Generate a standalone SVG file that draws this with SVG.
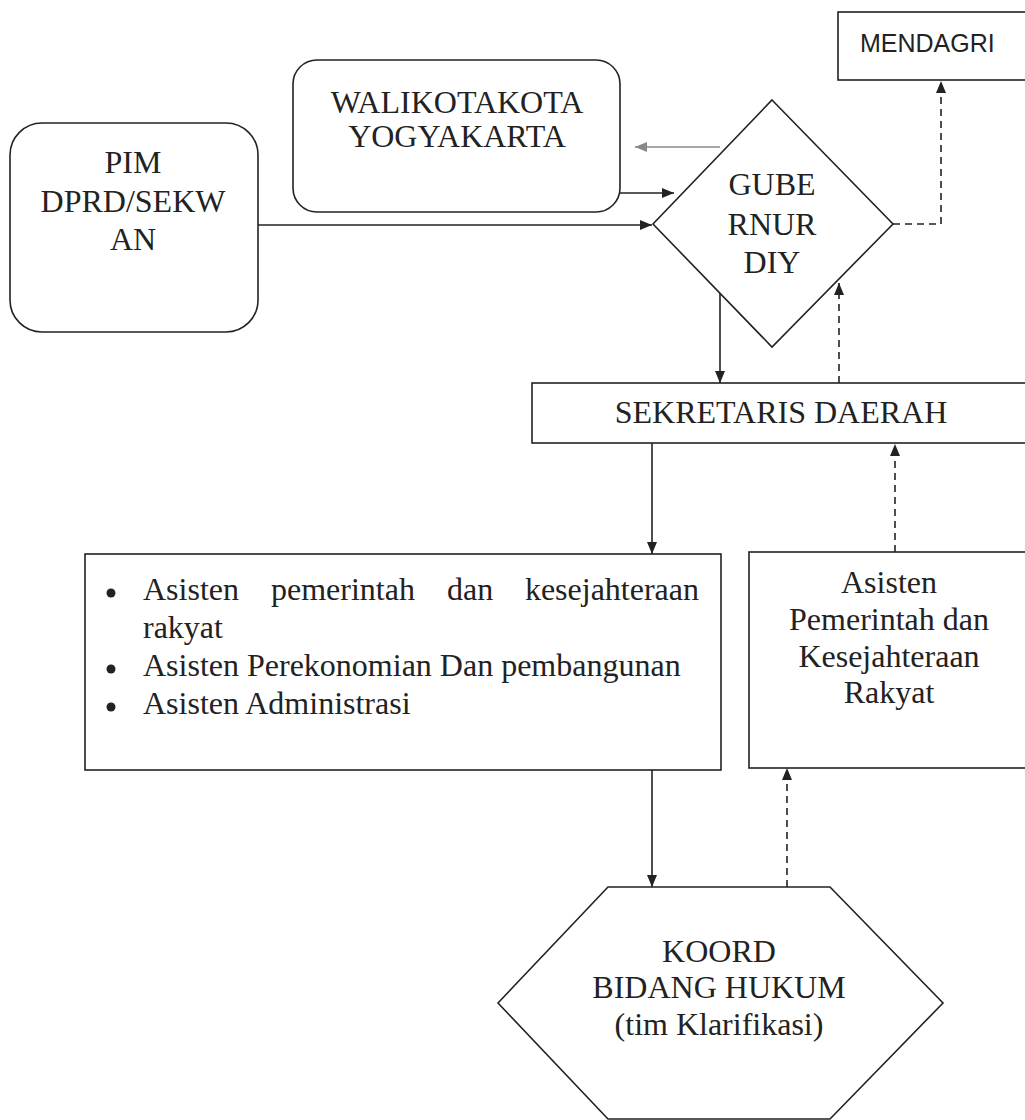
<svg xmlns="http://www.w3.org/2000/svg" width="1025" height="1120" viewBox="0 0 1025 1120">
<style>
.shape{fill:#fff;stroke:#222;stroke-width:1.6}
.t{font-family:"Liberation Serif","Times New Roman",serif;font-size:32px;fill:#222}
.c{text-anchor:middle}
.s{font-family:"Liberation Sans",Arial,sans-serif;font-size:25px;fill:#222}
.ln{fill:none;stroke:#222;stroke-width:1.6}
.dash{stroke-dasharray:7 5}
.gray{stroke:#888}
</style>
<defs>
<marker id="ah" viewBox="0 0 12 10" refX="12" refY="5" markerWidth="12" markerHeight="10" orient="auto" markerUnits="userSpaceOnUse">
<path d="M0,0 L12,5 L0,10 z" fill="#222"/>
</marker>
<marker id="ahg" viewBox="0 0 12 10" refX="12" refY="5" markerWidth="12" markerHeight="10" orient="auto" markerUnits="userSpaceOnUse">
<path d="M0,0 L12,5 L0,10 z" fill="#888"/>
</marker>
</defs>
<rect width="1025" height="1120" fill="#fff"/>

<g id="connectors">
<path class="ln" d="M258,225 H652" marker-end="url(#ah)"/>
<path class="ln" d="M620,193 H674" marker-end="url(#ah)"/>
<path class="ln gray" d="M720,147 H635" marker-end="url(#ahg)"/>
<path class="ln dash" d="M893,224 H941 V81" marker-end="url(#ah)"/>
<path class="ln" d="M720,293 V383" marker-end="url(#ah)"/>
<path class="ln dash" d="M839,383 V283" marker-end="url(#ah)"/>
<path class="ln" d="M652,443 V554" marker-end="url(#ah)"/>
<path class="ln dash" d="M895,552 V444" marker-end="url(#ah)"/>
<path class="ln" d="M652,770 V887" marker-end="url(#ah)"/>
<path class="ln dash" d="M787,887 V768" marker-end="url(#ah)"/>
</g>

<g id="mendagri">
<rect class="shape" x="838" y="12" width="200" height="68"/>
<text class="s" x="860" y="52">MENDAGRI</text>
</g>

<g id="walikota">
<rect class="shape" x="293" y="60" width="327" height="152" rx="24"/>
<text class="t c" x="457" y="113" font-size="30">WALIKOTAKOTA</text>
<text class="t c" x="457" y="147" font-size="30">YOGYAKARTA</text>
</g>

<g id="pim">
<rect class="shape" x="10" y="123" width="248" height="209" rx="32"/>
<text class="t c" x="133" y="173">PIM</text>
<text class="t c" x="133" y="212">DPRD/SEKW</text>
<text class="t c" x="133" y="250">AN</text>
</g>

<g id="gubernur">
<polygon class="shape" points="772,100 893,224 772,347 653,224"/>
<text class="t c" x="772" y="195">GUBE</text>
<text class="t c" x="772" y="235">RNUR</text>
<text class="t c" x="772" y="273">DIY</text>
</g>

<g id="sekretaris">
<rect class="shape" x="532" y="383" width="510" height="60"/>
<text class="t c" x="781" y="423">SEKRETARIS DAERAH</text>
</g>

<g id="asisten-list">
<rect class="shape" x="85" y="554" width="636" height="216"/>
<circle cx="111" cy="593" r="4.5" fill="#222"/>
<circle cx="111" cy="669" r="4.5" fill="#222"/>
<circle cx="111" cy="707" r="4.5" fill="#222"/>
<text class="t" x="143" y="600">Asisten</text>
<text class="t" x="271" y="600">pemerintah</text>
<text class="t" x="447" y="600">dan</text>
<text class="t" x="699" y="600" text-anchor="end">kesejahteraan</text>
<text class="t" x="143" y="638">rakyat</text>
<text class="t" x="143" y="676">Asisten Perekonomian Dan pembangunan</text>
<text class="t" x="143" y="714">Asisten Administrasi</text>
</g>

<g id="asisten-pemerintah">
<rect class="shape" x="749" y="552" width="290" height="216"/>
<text class="t c" x="889" y="593">Asisten</text>
<text class="t c" x="889" y="630">Pemerintah dan</text>
<text class="t c" x="889" y="667">Kesejahteraan</text>
<text class="t c" x="889" y="703">Rakyat</text>
</g>

<g id="koord">
<polygon class="shape" points="608,887 830,887 943,1003 830,1119 608,1119 498,1003"/>
<text class="t c" x="719" y="962">KOORD</text>
<text class="t c" x="719" y="998">BIDANG HUKUM</text>
<text class="t c" x="719" y="1035">(tim Klarifikasi)</text>
</g>
</svg>
